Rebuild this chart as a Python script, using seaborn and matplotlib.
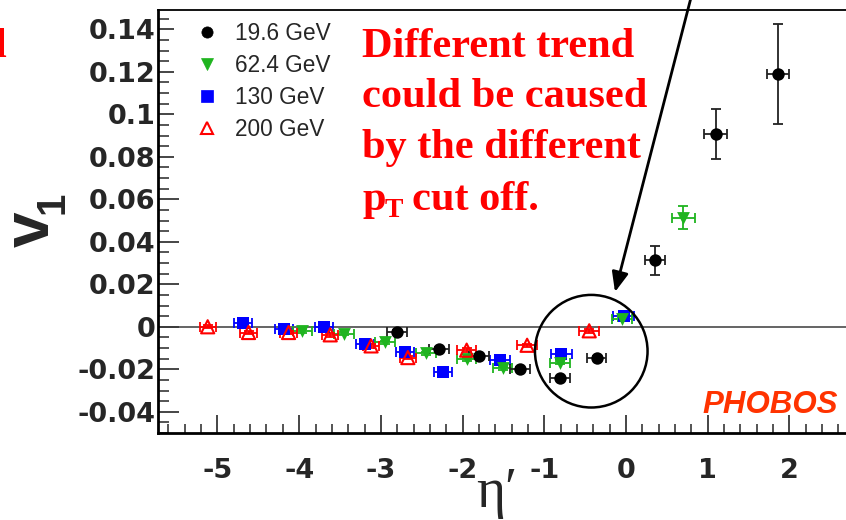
import numpy as np
import pandas as pd
import matplotlib
matplotlib.use("Agg")
import matplotlib.pyplot as plt
from matplotlib.lines import Line2D
from matplotlib.patches import Ellipse
from matplotlib.ticker import MultipleLocator, FixedLocator
import seaborn as sns

# ---- data: directed flow v1 vs eta' for four beam energies ----
energies = ["19.6 GeV", "62.4 GeV", "130 GeV", "200 GeV"]

eta_196 = [-2.80, -2.29, -1.80, -1.30, -0.81, -0.36, 0.355, 1.10, 1.86]
v1_196 = [-0.0024, -0.0103, -0.0137, -0.0197, -0.0243, -0.0145, 0.0312, 0.0906, 0.1191]
v1err_196 = [0.0008, 0.0008, 0.0008, 0.0008, 0.0008, 0.0008, 0.0066, 0.0118, 0.0236]
etaerr_196 = [0.12, 0.12, 0.12, 0.12, 0.12, 0.12, 0.12, 0.14, 0.14]

eta_624 = [-3.96, -3.45, -2.95, -2.45, -1.95, -1.51, -0.81, -0.05, 0.70]
v1_624 = [-0.0019, -0.0032, -0.0074, -0.0125, -0.0153, -0.0195, -0.0169, 0.0036, 0.0514]
v1err_624 = [0.0008, 0.0008, 0.0008, 0.0008, 0.0008, 0.0008, 0.0008, 0.0008, 0.0056]
etaerr_624 = [0.12, 0.12, 0.12, 0.12, 0.12, 0.12, 0.12, 0.12, 0.14]

eta_130 = [-4.69, -4.19, -3.70, -3.20, -2.70, -2.24, -1.54, -0.79, -0.03]
v1_130 = [0.0020, -0.0011, -0.0003, -0.0079, -0.0117, -0.0211, -0.0158, -0.0126, 0.0052]
v1err_130 = [0.0008, 0.0008, 0.0008, 0.0008, 0.0008, 0.0008, 0.0008, 0.0008, 0.0008]
etaerr_130 = [0.11, 0.11, 0.11, 0.11, 0.11, 0.11, 0.12, 0.13, 0.13]

eta_200 = [-5.12, -4.62, -4.13, -3.62, -3.12, -2.67, -1.95, -1.21, -0.45]
v1_200 = [0.0000, -0.0027, -0.0027, -0.0038, -0.0090, -0.0145, -0.0110, -0.0087, -0.0019]
v1err_200 = [0.0008, 0.0008, 0.0008, 0.0008, 0.0008, 0.0008, 0.0008, 0.0008, 0.0008]
etaerr_200 = [0.10, 0.10, 0.10, 0.10, 0.10, 0.10, 0.12, 0.12, 0.12]

x_ticks = [-5, -4, -3, -2, -1, 0, 1, 2]
y_ticks = [-0.04, -0.02, 0, 0.02, 0.04, 0.06, 0.08, 0.1, 0.12, 0.14]
y_ticklabels = ["-0.04", "-0.02", "0", "0.02", "0.04", "0.06", "0.08", "0.1", "0.12", "0.14"]

frames = []
for name, e, v, ve, ee in [
    (energies[0], eta_196, v1_196, v1err_196, etaerr_196),
    (energies[1], eta_624, v1_624, v1err_624, etaerr_624),
    (energies[2], eta_130, v1_130, v1err_130, etaerr_130),
    (energies[3], eta_200, v1_200, v1err_200, etaerr_200),
]:
    frames.append(pd.DataFrame({"energy": name, "eta": e, "v1": v,
                                "v1_err": ve, "eta_err": ee}))
df = pd.concat(frames, ignore_index=True)

style = {
    "19.6 GeV": dict(marker="o", color="black", face="black", s=80, lw=0, ecol="#222222", ms=8.5),
    "62.4 GeV": dict(marker="v", color="#1fb41f", face="#1fb41f", s=85, lw=0, ecol="#1fb41f", ms=9),
    "130 GeV": dict(marker="s", color="#0000ff", face="#0000ff", s=76, lw=0, ecol="#0000ff", ms=8.5),
    "200 GeV": dict(marker="^", color="#ff0000", face="none", s=90, lw=1.5, ecol="#ff0000", ms=9.5),
}
draw_order = ["130 GeV", "62.4 GeV", "200 GeV", "19.6 GeV"]

# ---- figure ----
sns.set_style("ticks")
plt.rcParams["font.family"] = ["DejaVu Sans"]
plt.rcParams["axes.unicode_minus"] = False

W, H = 846, 520
fig = plt.figure(figsize=(W / 100, H / 100), dpi=100)
fig.patch.set_facecolor("white")


def px(x, y):
    return (x / W, 1 - y / H)


ax = fig.add_axes([158 / W, (H - 433) / H, (W - 158) / W, (433 - 10) / H])
ax.set_facecolor("white")
ax.set_xlim(-5.728, 2.693)
ax.set_ylim(-0.0500, 0.1491)

ax.axhline(0, color="#3a3a3a", lw=1.1, zorder=1)

for name in draw_order:
    st = style[name]
    sub = df[df["energy"] == name]
    ax.errorbar(sub["eta"], sub["v1"], xerr=sub["eta_err"], yerr=sub["v1_err"],
                fmt="none", ecolor=st["ecol"], elinewidth=1.3, capsize=3.5,
                capthick=1.3, zorder=3)
    sns.scatterplot(data=sub, x="eta", y="v1", ax=ax, marker=st["marker"],
                    s=st["s"], color=st["face"], edgecolor=st["color"],
                    linewidth=st["lw"], zorder=4, legend=False)

ax.set_xlabel("")
ax.set_ylabel("")

# axes frame and ticks
for side in ["left", "bottom"]:
    ax.spines[side].set_linewidth(2.0)
    ax.spines[side].set_color("black")
ax.spines["top"].set_linewidth(1.3)
ax.spines["top"].set_color("black")
ax.spines["right"].set_visible(False)
for sp in ax.spines.values():
    sp.set_zorder(10)

ax.xaxis.set_major_locator(FixedLocator(x_ticks))
ax.xaxis.set_minor_locator(MultipleLocator(0.2))
ax.yaxis.set_major_locator(FixedLocator(y_ticks))
ax.set_yticklabels(y_ticklabels)
ax.yaxis.set_minor_locator(MultipleLocator(0.005))
ax.tick_params(axis="x", which="major", direction="in", length=13, width=1.2,
               pad=18, labelsize=19.5, top=False)
ax.tick_params(axis="x", which="minor", direction="in", length=6.5, width=1.1, top=False)
ax.tick_params(axis="y", which="major", direction="in", length=15, width=1.2,
               pad=2, labelsize=19.5, right=False)
ax.tick_params(axis="y", which="minor", direction="in", length=8, width=1.1, right=False)
for lab in ax.get_xticklabels() + ax.get_yticklabels():
    lab.set_fontweight("bold")

# legend
handles = [Line2D([], [], ls="none", marker=style[n]["marker"], ms=style[n]["ms"] * 0.95,
                  color=style[n]["color"], mfc=style[n]["face"],
                  mec=style[n]["color"], mew=max(style[n]["lw"], 0.5))
           for n in energies]
leg = ax.legend(handles, energies, loc="upper left",
                bbox_to_anchor=px(174, 0), bbox_transform=fig.transFigure,
                prop={"family": "Liberation Sans", "size": 16.3},
                frameon=True, fancybox=False, edgecolor="none", facecolor="white",
                framealpha=1, borderpad=0.96, borderaxespad=0, handlelength=1.0,
                handletextpad=0.74, labelspacing=0.40)
leg.set_zorder(5)

# axis titles
fig.text(*px(32, 229), "v", rotation=90, ha="center", va="center",
         family="Liberation Sans", weight="bold", fontsize=46)
fig.text(*px(53, 203), "1", rotation=90, ha="center", va="center",
         family="Liberation Sans", weight="bold", fontsize=29)
fig.text(*px(476, 507), "\u03b7\u2032", ha="left", va="baseline",
         family=["Liberation Serif", "DejaVu Serif"], fontsize=40)

# experiment tag
fig.text(*px(702, 413), "PHOBOS", ha="left", va="baseline", color="#ff3300",
         family="Liberation Sans", weight="bold", style="italic", fontsize=22.5)

# annotation text
red = "#ff0000"
serif_bold = dict(family="Liberation Serif", weight="bold", color=red, va="baseline", ha="left")
fig.text(*px(362, 57), "Different trend", fontsize=30.5, **serif_bold)
fig.text(*px(362, 107), "could be caused", fontsize=30.5, **serif_bold)
fig.text(*px(362, 158), "by the different", fontsize=30.5, **serif_bold)
fig.text(*px(362, 210), "p", fontsize=30.5, **serif_bold)
fig.text(*px(385, 217), "T", fontsize=20, **serif_bold)
fig.text(*px(412, 210), "cut off.", fontsize=30.5, **serif_bold)
fig.text(*px(6, 57), "l", fontsize=30.5, family="Liberation Serif", weight="bold",
         color=red, va="baseline", ha="right")

# highlight circle and arrow
circle = Ellipse((-0.425, -0.0115), width=1.378, height=0.0530, fill=False,
                 ec="black", lw=1.8, zorder=6, clip_on=False)
ax.add_patch(circle)
ax.annotate("", xy=(615, H - 292), xycoords="figure pixels",
            xytext=(694, H + 14), textcoords="figure pixels",
            arrowprops=dict(arrowstyle="-|>,head_length=0.6,head_width=0.25",
                            mutation_scale=20, lw=2.0, color="black",
                            shrinkA=0, shrinkB=0),
            annotation_clip=False)

fig.savefig("out.png", dpi=100, facecolor="white")
